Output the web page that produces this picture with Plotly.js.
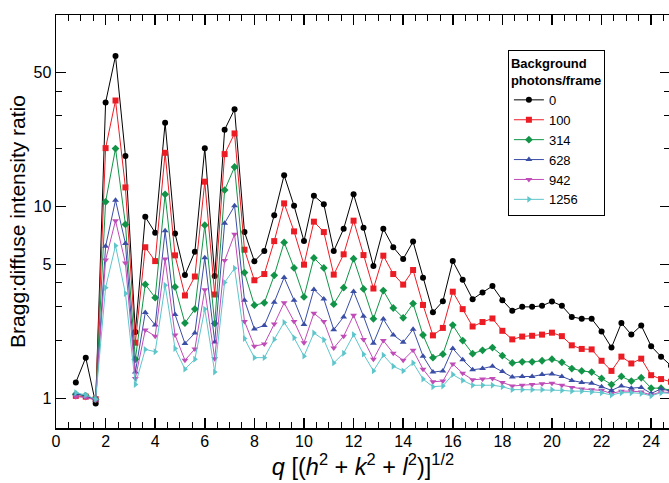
<!DOCTYPE html>
<html>
<head>
<meta charset="utf-8">
<script src="https://cdn.plot.ly/plotly-3.0.1.min.js"></script>
<style>
html, body { margin:0; padding:0; overflow:hidden; background:#fff; }
#chart { width:671px; height:483px; }
</style>
</head>
<body>
<div id="chart"></div>
<script>
// q values
const qValues = [0.8,1.2,1.6,2.0,2.4,2.8,3.2,3.6,4.0,4.4,4.8,5.2,5.6,6.0,6.4,6.8,7.2,7.6,8.0,8.4,8.8,9.2,9.6,10.0,10.4,10.8,11.2,11.6,12.0,12.4,12.8,13.2,13.6,14.0,14.4,14.8,15.2,15.6,16.0,16.4,16.8,17.2,17.6,18.0,18.4,18.8,19.2,19.6,20.0,20.4,20.8,21.2,21.6,22.0,22.4,22.8,23.2,23.6,24.0,24.4,24.8];

const seriesNames = ["0","100","314","628","942","1256"];

const bg0 = [1.21,1.63,0.94,35.0,61.1,18.4,2.22,8.85,7.31,27.4,7.25,4.40,5.82,20.2,4.35,25.2,32.2,7.37,5.19,5.87,9.03,14.6,10.1,6.61,11.4,10.3,5.87,7.67,11.6,7.76,4.90,7.67,6.14,5.33,6.57,4.26,2.81,3.21,5.20,4.15,3.29,3.57,3.85,3.25,2.86,3.00,3.00,3.04,3.20,3.04,2.66,2.60,2.60,2.23,1.84,2.47,2.15,2.40,1.87,1.65,1.48];
const bg100 = [1.03,1.02,0.99,20.2,35.8,12.6,1.95,6.14,5.20,19.1,5.57,3.44,4.32,13.5,3.48,18.8,24.1,5.96,4.13,4.45,6.61,10.4,7.43,4.98,8.35,7.37,4.42,5.64,8.45,5.59,3.74,5.55,4.45,3.92,4.67,3.07,2.13,2.33,3.60,2.92,2.37,2.50,2.61,2.25,2.03,2.10,2.12,2.15,2.20,2.11,1.89,1.81,1.80,1.57,1.39,1.65,1.52,1.61,1.32,1.26,1.22];
const bg314 = [1.05,1.03,0.99,10.6,20.1,8.08,1.60,3.93,3.35,11.6,3.81,2.47,2.92,8.01,2.46,12.2,16.1,4.53,3.06,3.15,4.38,6.51,4.79,3.38,5.40,4.79,3.10,3.78,5.35,3.72,2.60,3.65,2.96,2.63,3.12,2.14,1.63,1.70,2.41,2.00,1.71,1.78,1.84,1.67,1.53,1.55,1.55,1.57,1.60,1.54,1.43,1.39,1.37,1.27,1.18,1.30,1.23,1.28,1.13,1.13,1.10];
const bg628 = [1.06,1.03,0.98,6.21,10.8,6.43,1.37,2.80,2.41,7.49,2.74,1.93,2.19,5.42,1.97,8.20,10.1,3.25,2.30,2.40,3.17,4.27,3.25,2.43,3.70,3.30,2.28,2.66,3.61,2.68,1.94,2.59,2.14,1.96,2.29,1.66,1.37,1.39,1.82,1.59,1.41,1.43,1.47,1.38,1.29,1.30,1.30,1.33,1.34,1.30,1.24,1.21,1.20,1.15,1.10,1.16,1.13,1.14,1.06,1.12,1.09];
const bg942 = [1.02,1.01,0.98,5.27,8.45,5.08,1.27,2.27,2.11,5.33,2.14,1.58,1.81,3.69,1.61,5.23,7.17,2.52,1.87,1.92,2.44,3.15,2.52,1.95,2.78,2.52,1.83,2.11,2.71,2.03,1.60,2.00,1.72,1.58,1.78,1.42,1.22,1.23,1.51,1.35,1.25,1.26,1.27,1.21,1.16,1.17,1.18,1.19,1.20,1.17,1.14,1.12,1.11,1.10,1.06,1.09,1.09,1.08,1.04,1.08,1.07];
const bg1256 = [1.07,1.04,0.99,3.78,6.26,3.52,1.18,1.80,1.75,3.89,1.82,1.42,1.60,2.92,1.37,4.02,4.77,2.05,1.63,1.63,2.03,2.49,2.07,1.66,2.19,2.02,1.53,1.72,2.15,1.70,1.39,1.68,1.47,1.39,1.53,1.26,1.15,1.16,1.33,1.24,1.17,1.17,1.17,1.15,1.11,1.11,1.11,1.11,1.11,1.10,1.09,1.09,1.08,1.07,1.04,1.07,1.07,1.06,1.03,1.07,1.06];

const yTickVals = [1,5,10,50];
const yTickText = ["1","5","10","50"];
const yMinorVals = [2,3,4,20,30,40];
const xTickVals = [0,2,4,6,8,10,12,14,16,18,20,22,24];

const seriesData = [bg0,bg100,bg314,bg628,bg942,bg1256];
const colors = ["#000000","#ec1c24","#119447","#3a4ea6","#c04cb8","#5ec6cb"];
const symbols = ["circle","square","diamond","triangle-up","triangle-down","triangle-right"];
const sizes = [6,6,6,6,6,6];

const traces = seriesData.map((ys,i)=>({
  x: qValues, y: ys, name: seriesNames[i], type:'scatter', mode:'lines+markers',
  line:{color:colors[i], width:1},
  marker:{color:colors[i], symbol:symbols[i], size:sizes[i]}
}));

const FONT = 'Arial, "Liberation Sans", Helvetica, sans-serif';

const layout = {
  width: 671, height: 483,
  margin:{l:56, r:1, t:15, b:55},
  paper_bgcolor:'#fff', plot_bgcolor:'#fff',
  font:{family:FONT, color:'#000'},
  showlegend:true,
  legend:{
    x:0.736, y:0.915, xanchor:'left', yanchor:'top',
    bordercolor:'#000', borderwidth:1, bgcolor:'#fff',
    font:{size:13, family:FONT},
    title:{text:'<b>Background<br>photons/frame</b>', font:{size:13, family:FONT}, side:'top'},
    tracegroupgap:0, itemwidth:30
  },
  xaxis:{
    range:[0,24.76], showgrid:false, zeroline:false,
    showline:true, linecolor:'#000', linewidth:1.5, mirror:'ticks',
    ticks:'inside', ticklen:10, tickwidth:1.5, tickcolor:'#000',
    tickmode:'array', tickvals:xTickVals,
    tickfont:{size:16, family:FONT}, ticklabelstandoff:-2,
    minor:{dtick:0.5, tick0:0, ticks:'inside', ticklen:6, tickwidth:1, tickcolor:'#000', showgrid:false},
    title:{text:'<i>q</i> [(<i>h</i><sup>2</sup> + <i>k</i><sup>2</sup> + <i>l</i><sup>2</sup>)]<sup>1/2</sup>', font:{size:23.5, family:FONT}, standoff:7}
  },
  yaxis:{
    type:'log', range:[Math.log10(0.7), 2], showgrid:false, zeroline:false,
    showline:true, linecolor:'#000', linewidth:1.5, mirror:'ticks',
    ticks:'inside', ticklen:10, tickwidth:1.5, tickcolor:'#000',
    tickmode:'array', tickvals:yTickVals, ticktext:yTickText,
    tickfont:{size:16, family:FONT},
    minor:{tickmode:'array', tickvals:yMinorVals, ticks:'inside', ticklen:6, tickwidth:1, tickcolor:'#000', showgrid:false},
    title:{text:'Bragg:diffuse intensity ratio', font:{size:21, family:FONT}, standoff:2}
  }
};

Plotly.newPlot('chart', traces, layout, {displayModeBar:false, staticPlot:true});
</script>
</body>
</html>
